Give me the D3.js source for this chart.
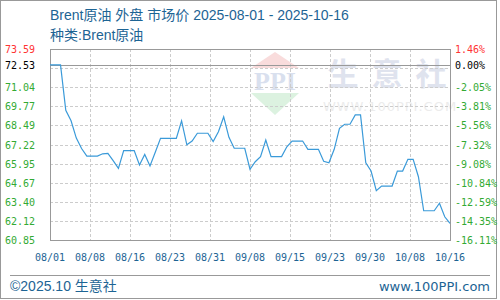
<!DOCTYPE html>
<html>
<head>
<meta charset="utf-8">
<script src="https://cdn.jsdelivr.net/npm/d3@7"></script>
<style>
  body { margin: 0; background: #fff; }
  svg { display: block; }
  .tick-l, .tick-r, .tick-x { font-family: 'DejaVu Sans Mono', monospace; font-size: 10px; }
</style>
</head>
<body>
<svg id="chart" width="500" height="300"></svg>
<script>
// daily prices, 2025-08-01 .. 2025-10-16
const startDate = '2025-08-01';
const endDate = '2025-10-16';
const prices = [
  72.53, 72.53, 72.53, 69.5, 68.8, 67.65, 66.95, 66.45, 66.45, 66.45,
  66.6, 66.63, 66.15, 65.63, 66.81, 66.81, 66.81, 65.85, 66.56, 65.79,
  66.7, 67.63, 67.63, 67.63, 67.63, 68.8, 67.2, 67.45, 67.97, 67.97,
  67.97, 67.41, 68.07, 69.07, 67.7, 66.97, 66.97, 66.97, 65.57, 66.07,
  66.41, 67.52, 66.41, 66.41, 66.41, 67.07, 67.45, 67.45, 67.45, 66.9,
  66.9, 66.9, 66.1, 66.0, 66.9, 68.3, 68.57, 68.57, 69.19, 69.19,
  66.0, 65.45, 64.14, 64.45, 64.45, 64.45, 65.45, 65.45, 66.23, 66.23,
  65.07, 62.8, 62.8, 62.8, 63.3, 62.4, 61.96
];

const basePrice = 72.53;
const maxPrice = 73.59;
const minPrice = 60.85;
const leftTicks = [71.04, 69.77, 68.49, 67.22, 65.95, 64.67, 63.40, 62.12, 60.85];
const rightTicks = ['-2.05%', '-3.81%', '-5.56%', '-7.32%', '-9.08%', '-10.84%', '-12.59%', '-14.35%', '-16.11%'];
const gridTicks = [73.59, 72.32, 71.04, 69.77, 68.49, 67.22, 65.95, 64.67, 63.40, 62.12, 60.85];
const xTicks = ['08/01', '08/08', '08/16', '08/23', '08/31', '09/08', '09/15', '09/23', '09/30', '10/08', '10/16'];

const title = 'Brent原油 外盘 市场价 2025-08-01 - 2025-10-16';
const subtitle = '种类:Brent原油';
const footLeft = '©2025.10 生意社';
const footRight = 'www.100PPI.com';

const plot = {left: 50, right: 450, top: 49, bottom: 240};
const blue = '#3a9ad9';
const textBlue = '#1d6494';

const parse = d3.timeParse('%Y-%m-%d');
const dates = d3.timeDay.range(parse(startDate), d3.timeDay.offset(parse(endDate), 1));
const data = dates.map((d, i) => ({date: d, price: prices[i]}));

const x = d3.scaleTime()
  .domain([parse(startDate), parse(endDate)])
  .range([plot.left, plot.right]);
const y = d3.scaleLinear()
  .domain([minPrice, maxPrice])
  .range([plot.bottom, plot.top]);

const svg = d3.select('#chart');

// outer frame
svg.append('rect')
  .attr('x', 0.5).attr('y', 0.5)
  .attr('width', 496).attr('height', 298)
  .attr('fill', 'none').attr('stroke', '#999');

// watermark
const wm = svg.append('g');
const lx = 275;
wm.append('path')
  .attr('d', `M${lx},52 L${lx + 24},68 L${lx - 24},68 Z`)
  .attr('fill', '#f9dcdc');
wm.append('path')
  .attr('d', `M${lx - 24},93 L${lx + 24},93 L${lx},115 Z`)
  .attr('fill', '#dcf2e0');
wm.append('text')
  .attr('x', lx).attr('y', 90)
  .attr('text-anchor', 'middle')
  .style('font-family', 'Liberation Serif, serif')
  .style('font-weight', 'bold')
  .style('font-size', '26px')
  .attr('fill', '#d9e0ee')
  .text('PPI');
['生', '意', '社'].forEach((c, i) => {
  wm.append('text')
    .attr('x', 343 + i * 44).attr('y', 85)
    .attr('text-anchor', 'middle')
    .style('font-family', 'Noto Sans CJK SC')
    .style('font-weight', 'bold')
    .style('font-size', '31px')
    .attr('fill', '#dfe3ee')
    .text(c);
});
wm.append('text')
  .attr('x', 390).attr('y', 111)
  .attr('text-anchor', 'middle')
  .style('font-family', 'DejaVu Sans, sans-serif')
  .style('font-size', '13px')
  .style('letter-spacing', '1px')
  .attr('fill', '#ececec')
  .text('WWW.100PPI.COM');

// grid
svg.append('g')
  .selectAll('line')
  .data(gridTicks)
  .join('line')
  .attr('x1', plot.left).attr('x2', plot.right)
  .attr('y1', d => Math.round(y(d)) + 0.5).attr('y2', d => Math.round(y(d)) + 0.5)
  .attr('stroke', '#ccc')
  .attr('stroke-dasharray', '3,2');

const xTickDates = d3.range(xTicks.length).map(i =>
  new Date(+x.domain()[0] + i * (x.domain()[1] - x.domain()[0]) / (xTicks.length - 1)));

svg.append('g')
  .selectAll('line')
  .data(xTickDates.slice(1, -1))
  .join('line')
  .attr('x1', d => Math.round(x(d)) + 0.5).attr('x2', d => Math.round(x(d)) + 0.5)
  .attr('y1', plot.top).attr('y2', plot.bottom)
  .attr('stroke', '#ccc')
  .attr('stroke-dasharray', '3,2');

// frame of plot
svg.append('rect')
  .attr('x', plot.left + 0.5).attr('y', plot.top + 0.5)
  .attr('width', plot.right - plot.left).attr('height', plot.bottom - plot.top)
  .attr('fill', 'none').attr('stroke', '#999');

// base line
svg.append('line')
  .attr('x1', plot.left).attr('x2', plot.right)
  .attr('y1', Math.round(y(basePrice)) + 0.5).attr('y2', Math.round(y(basePrice)) + 0.5)
  .attr('stroke', '#999');

// price line
const line = d3.line()
  .x(d => x(d.date))
  .y(d => y(d.price));

svg.append('path')
  .datum(data)
  .attr('d', line)
  .attr('fill', 'none')
  .attr('stroke', blue)
  .attr('stroke-width', 1.2);

// left axis labels
const leftLabels = [
  {v: maxPrice, t: maxPrice.toFixed(2), c: '#ff3333'},
  {v: basePrice, t: basePrice.toFixed(2), c: '#000'}
].concat(leftTicks.map(v => ({v: v, t: v.toFixed(2), c: '#33aa33'})));

svg.append('g')
  .selectAll('text')
  .data(leftLabels)
  .join('text')
  .attr('class', 'tick-l')
  .attr('x', 35)
  .attr('y', d => y(d.v) + 4)
  .attr('text-anchor', 'end')
  .attr('fill', d => d.c)
  .text(d => d.t);

// right axis labels
const rightLabels = [
  {v: maxPrice, t: '1.46%', c: '#ff3333'},
  {v: basePrice, t: '0.00%', c: '#000'}
].concat(leftTicks.map((v, i) => ({v: v, t: rightTicks[i], c: '#33aa33'})));

svg.append('g')
  .selectAll('text')
  .data(rightLabels)
  .join('text')
  .attr('class', 'tick-r')
  .attr('x', 455)
  .attr('y', d => y(d.v) + 4)
  .attr('fill', d => d.c)
  .text(d => d.t);

// x labels
svg.append('g')
  .selectAll('text')
  .data(xTickDates)
  .join('text')
  .attr('class', 'tick-x')
  .attr('x', d => x(d))
  .attr('y', 261)
  .attr('text-anchor', 'middle')
  .attr('fill', textBlue)
  .text((d, i) => xTicks[i]);

// titles
svg.append('text')
  .attr('x', 50).attr('y', 20)
  .style('font-family', 'Liberation Sans, Noto Sans CJK SC, sans-serif')
  .style('font-size', '14px')
  .attr('fill', textBlue)
  .text(title);

svg.append('text')
  .attr('x', 50).attr('y', 40)
  .style('font-family', 'Liberation Sans, Noto Sans CJK SC, sans-serif')
  .style('font-size', '14px')
  .attr('fill', textBlue)
  .text(subtitle);

// footer
svg.append('line')
  .attr('x1', 10).attr('x2', 490)
  .attr('y1', 275.5).attr('y2', 275.5)
  .attr('stroke', '#999');

svg.append('text')
  .attr('x', 10).attr('y', 291)
  .style('font-family', 'Liberation Sans, Noto Sans CJK SC, sans-serif')
  .style('font-size', '14px')
  .attr('fill', textBlue)
  .text(footLeft);

svg.append('text')
  .attr('x', 490).attr('y', 291)
  .attr('text-anchor', 'end')
  .style('font-family', 'DejaVu Sans, sans-serif')
  .style('font-size', '13px')
  .attr('fill', textBlue)
  .text(footRight);
</script>
</body>
</html>
